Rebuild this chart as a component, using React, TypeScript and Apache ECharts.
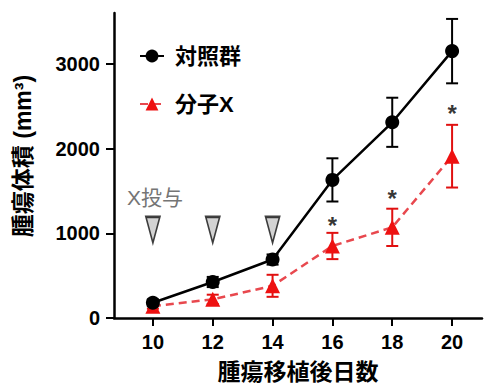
import React, { useEffect, useRef } from "react";
import * as echarts from "echarts";

const days = [10, 12, 14, 16, 18, 20];
const controlMean = [180, 425, 690, 1630, 2310, 3150];
const controlErr = [40, 60, 60, 255, 290, 380];
const drugMean = [140, 220, 380, 850, 1070, 1910];
const drugErr = [30, 55, 130, 155, 220, 370];
const dosingDays = [10, 12, 14];
const dosingLevel = 1040;
const sigDays = [16, 18, 20];
const sigLevels = [1160, 1480, 2480];
const xTicks = [10, 12, 14, 16, 18, 20];
const yTicks = [0, 1000, 2000, 3000];
const seriesNames = ["対照群", "分子X"];

const FONT = "'Liberation Sans', Arial, 'Noto Sans CJK JP', sans-serif";
const BLACK = "#000000";
const RED = "#ee1111";
const RED_LINE = "#e8484e";

function errRender(color: string) {
  return (params: any, api: any) => {
    const x = api.value(0);
    const lo = api.coord([x, api.value(1)]);
    const hi = api.coord([x, api.value(2)]);
    const hw = 6;
    const style = { stroke: color, lineWidth: 2 };
    return {
      type: "group",
      children: [
        { type: "line", shape: { x1: lo[0], y1: lo[1], x2: hi[0], y2: hi[1] }, style },
        { type: "line", shape: { x1: lo[0] - hw, y1: lo[1], x2: lo[0] + hw, y2: lo[1] }, style },
        { type: "line", shape: { x1: hi[0] - hw, y1: hi[1], x2: hi[0] + hw, y2: hi[1] }, style },
      ],
    };
  };
}

export default function App() {
  const ref = useRef<HTMLDivElement>(null);
  useEffect(() => {
    if (!ref.current) return;
    const chart = echarts.init(ref.current, undefined, { renderer: "svg" });
    chart.setOption({
      animation: false,
      backgroundColor: "#ffffff",
      grid: { left: 114, right: 9, top: 13, bottom: 65, containLabel: false },
      legend: {
        data: seriesNames,
        orient: "vertical",
        left: 134,
        top: 40,
        itemGap: 26,
        itemWidth: 24,
        itemHeight: 16,
        textStyle: {
          fontFamily: FONT,
          fontSize: 22,
          fontWeight: "bold",
          color: "#000",
          padding: [0, 0, 0, 6],
        },
      },
      xAxis: {
        type: "value",
        min: 8.7,
        max: 21,
        splitLine: { show: false },
        axisLine: { lineStyle: { color: BLACK, width: 2.5 } },
        axisTick: { length: 8, lineStyle: { color: BLACK, width: 2 }, customValues: xTicks },
        axisLabel: {
          customValues: xTicks,
          margin: 14,
          fontFamily: FONT,
          fontSize: 20,
          fontWeight: "bold",
          color: "#000",
        },
        name: "腫瘍移植後日数",
        nameLocation: "middle",
        nameGap: 42,
        nameTextStyle: { fontFamily: FONT, fontSize: 23, fontWeight: "bold", color: "#000" },
      },
      yAxis: {
        type: "value",
        min: 0,
        max: 3600,
        splitLine: { show: false },
        axisLine: { show: true, lineStyle: { color: BLACK, width: 2.5 } },
        axisTick: { show: true, length: 8, lineStyle: { color: BLACK, width: 2 }, customValues: yTicks },
        axisLabel: {
          customValues: yTicks,
          formatter: (v: number) => String(v),
          margin: 14,
          fontFamily: FONT,
          fontSize: 20,
          fontWeight: "bold",
          color: "#000",
        },
      },
      graphic: [
        {
          type: "text",
          x: 23,
          y: 156,
          rotation: Math.PI / 2,
          style: {
            text: "腫瘍体積 (mm³)",
            fontFamily: FONT,
            fontSize: 23,
            fontWeight: "bold",
            fill: "#000",
            textAlign: "center",
            textVerticalAlign: "middle",
          },
        },
        {
          type: "text",
          x: 127,
          y: 197,
          style: {
            text: "X投与",
            fontFamily: FONT,
            fontSize: 21,
            fill: "#757575",
            textAlign: "left",
            textVerticalAlign: "middle",
          },
        },
      ],
      series: [
        {
          name: "errControl",
          type: "custom",
          renderItem: errRender(BLACK),
          data: days.map((d, i) => [d, controlMean[i] - controlErr[i], controlMean[i] + controlErr[i]]),
          z: 3,
          silent: true,
        },
        {
          name: "errDrug",
          type: "custom",
          renderItem: errRender("#e01010"),
          data: days.map((d, i) => [d, drugMean[i] - drugErr[i], drugMean[i] + drugErr[i]]),
          z: 3,
          silent: true,
        },
        {
          name: seriesNames[1],
          type: "line",
          data: days.map((d, i) => [d, drugMean[i]]),
          symbol: "triangle",
          symbolSize: 15,
          itemStyle: { color: RED },
          lineStyle: { color: RED_LINE, width: 2.5, type: [8, 5] },
          z: 4,
        },
        {
          name: seriesNames[0],
          type: "line",
          data: days.map((d, i) => [d, controlMean[i]]),
          symbol: "circle",
          symbolSize: 14,
          itemStyle: { color: BLACK },
          lineStyle: { color: BLACK, width: 2.5 },
          z: 5,
        },
        {
          name: "dosing",
          type: "scatter",
          data: dosingDays.map((d) => [d, dosingLevel]),
          symbol: "path://M0,0 L10,0 L5,20 Z",
          symbolSize: [14, 26],
          itemStyle: { color: "#c8c8c8", borderColor: "#111", borderWidth: 2 },
          z: 6,
          silent: true,
        },
        {
          name: "sig",
          type: "scatter",
          data: sigDays.map((d, i) => [d, sigLevels[i]]),
          symbolSize: 1,
          itemStyle: { color: "transparent" },
          label: {
            show: true,
            position: "inside",
            formatter: "*",
            fontFamily: FONT,
            fontSize: 24,
            fontWeight: "bold",
            color: "#000",
            offset: [0, 6],
          },
          z: 6,
          silent: true,
        },
      ],
    });
    return () => chart.dispose();
  }, []);
  return <div ref={ref} style={{ width: 491, height: 388, position: "absolute", left: 0, top: 0 }} />;
}
